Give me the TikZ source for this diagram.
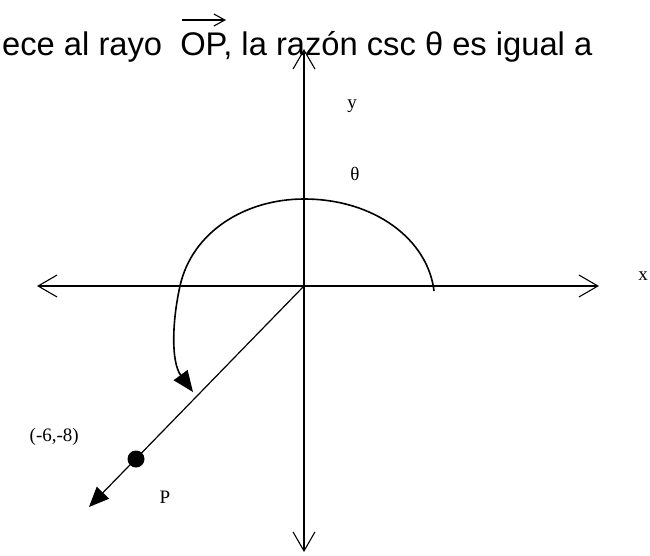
\documentclass[tikz,border=0pt]{standalone}
\usepackage{fontspec}
\setmainfont{Liberation Serif}
\newfontfamily\sansf{Liberation Sans}
\usetikzlibrary{arrows.meta}
\begin{document}
\begin{tikzpicture}[x=1pt,y=-1pt,
  axis/.style={line width=1.1pt,-{Straight Barb[length=19pt,width=22pt,line width=1.1pt]}},
  ray/.style={line width=1.2pt,-{Triangle[length=20pt,width=17pt]}},
  lbl/.style={font=\fontsize{19}{22}\selectfont,inner sep=0pt},
  head/.style={font=\sansf\fontsize{32.7}{36}\selectfont,inner sep=0pt,anchor=base west}]
\useasboundingbox (0,0) rectangle (650,555);
\coordinate (O) at (304,286);
\coordinate (xl) at (37,286);
\coordinate (xr) at (599,286);
\coordinate (yt) at (304,49);
\coordinate (yb) at (304,552);
\coordinate (tip) at (89,507);
\coordinate (Pt) at (136,459);
% title text
\node[head] (title) at (2,55) {ece al rayo\ \ OP, la razón csc θ es igual a};
\coordinate (va) at (182,20);
\coordinate (vb) at (226,20);
\draw[line width=1.1pt,-{Straight Barb[length=11pt,width=12pt,line width=1.1pt]}] (va) -- (vb);
% axes
\draw[axis] (O) -- (xr);
\draw[axis] (O) -- (xl);
\draw[axis] (O) -- (yt);
\draw[axis] (O) -- (yb);
% ray OP
\draw[ray] (O) -- (tip);
\fill (Pt) circle (8.5);
% angle arc
\coordinate (a0) at (434,291);
\coordinate (a1) at (304,199);
\coordinate (a2) at (180,286);
\coordinate (a3) at (193,392);
\draw[line width=1.6pt,-{Triangle[length=21pt,width=17pt]}]
  (a0) .. controls (428,240) and (375,199) .. (a1)
       .. controls (245,199) and (192,232) .. (a2)
       .. controls (172,322) and (171,362) .. (a3);
% labels
\node[lbl] (xlab) at (643,276) {x};
\node[lbl] (ylab) at (352,106) {y};
\node[lbl] (th) at (355,174) {θ};
\node[lbl] (plab) at (165,497) {P};
\node[lbl,anchor=east] (coord) at (79,437) {(-6,-8)};
\end{tikzpicture}
\end{document}
